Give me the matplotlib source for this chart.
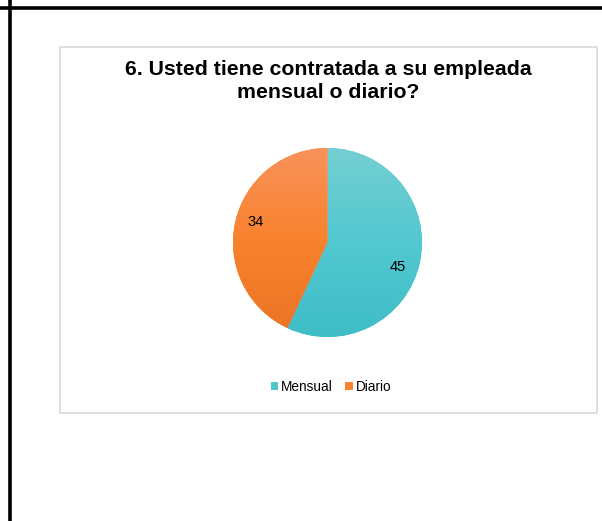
import numpy as np
import matplotlib.pyplot as plt
from matplotlib.colors import LinearSegmentedColormap
from matplotlib.lines import Line2D
from matplotlib.patches import Rectangle

plt.rcParams['font.family'] = ['Liberation Sans', 'DejaVu Sans']

# Data
labels = ['Mensual', 'Diario']
values = [45, 34]
title = '6. Usted tiene contratada a su empleada\nmensual o diario?'

# colours: gradient stops top -> bottom, and legend colour
grad_stops = [['#74cfd2', '#52c8d0', '#3fbdc7'],
              ['#f9925c', '#f8822c', '#ea7426']]
legend_colors = ['#4fc7cd', '#f7832f']

fig = plt.figure(figsize=(6.02, 5.21), dpi=100)
W, H = 602, 521

# page frame lines (black) and chart box (light gray)
fig.add_artist(Line2D([0, 1], [1 - 8.3 / H, 1 - 8.3 / H], color='black', lw=2.6,
                      transform=fig.transFigure))
fig.add_artist(Line2D([9.5 / W, 9.5 / W], [0, 1], color='black', lw=2.6,
                      transform=fig.transFigure))
fig.add_artist(Rectangle((60 / W, 1 - 413 / H), 537 / W, 366 / H, fill=False,
                         edgecolor='#d9d9d9', lw=1.2, transform=fig.transFigure))

fig.text(328 / W, 1 - 81 / H, title, ha='center', va='center', fontsize=15.3,
         fontweight='bold', linespacing=1.25)

# pie axes
cx, cy, r = 327.5, 242.5, 94.5
ax = fig.add_axes([(cx - r) / W, 1 - (cy + r) / H, 2 * r / W, 2 * r / H])
wedges, texts, autotexts = ax.pie(values, colors=legend_colors, startangle=90,
                                  counterclock=False, radius=1,
                                  autopct=lambda p: '%d' % round(p * sum(values) / 100),
                                  pctdistance=0.79,
                                  textprops={'fontsize': 10.5, 'color': 'black'})
ax.set_xlim(-1, 1)
ax.set_ylim(-1, 1)

# label spots as in the original chart
autotexts[0].set_position((0.74, -0.26))
autotexts[1].set_position((-0.76, 0.22))

# vertical gradient fill clipped to each wedge
grad = np.linspace(0, 1, 256).reshape(-1, 1)
for i, w in enumerate(wedges):
    cmap = LinearSegmentedColormap.from_list('g%d' % i, grad_stops[i][::-1])
    im = ax.imshow(grad, cmap=cmap, extent=(-1, 1, -1, 1), origin='lower',
                   aspect='auto', zorder=w.get_zorder() + 0.1)
    im.set_clip_path(w)
for t in autotexts:
    t.set_zorder(5)

fig.legend(wedges, labels, loc='center', bbox_to_anchor=(331 / W, 1 - 387 / H),
           ncol=2, frameon=False, fontsize=9.8, handlelength=0.55, handleheight=0.55,
           handletextpad=0.2, columnspacing=0.9)

plt.savefig('out.png', dpi=100)
